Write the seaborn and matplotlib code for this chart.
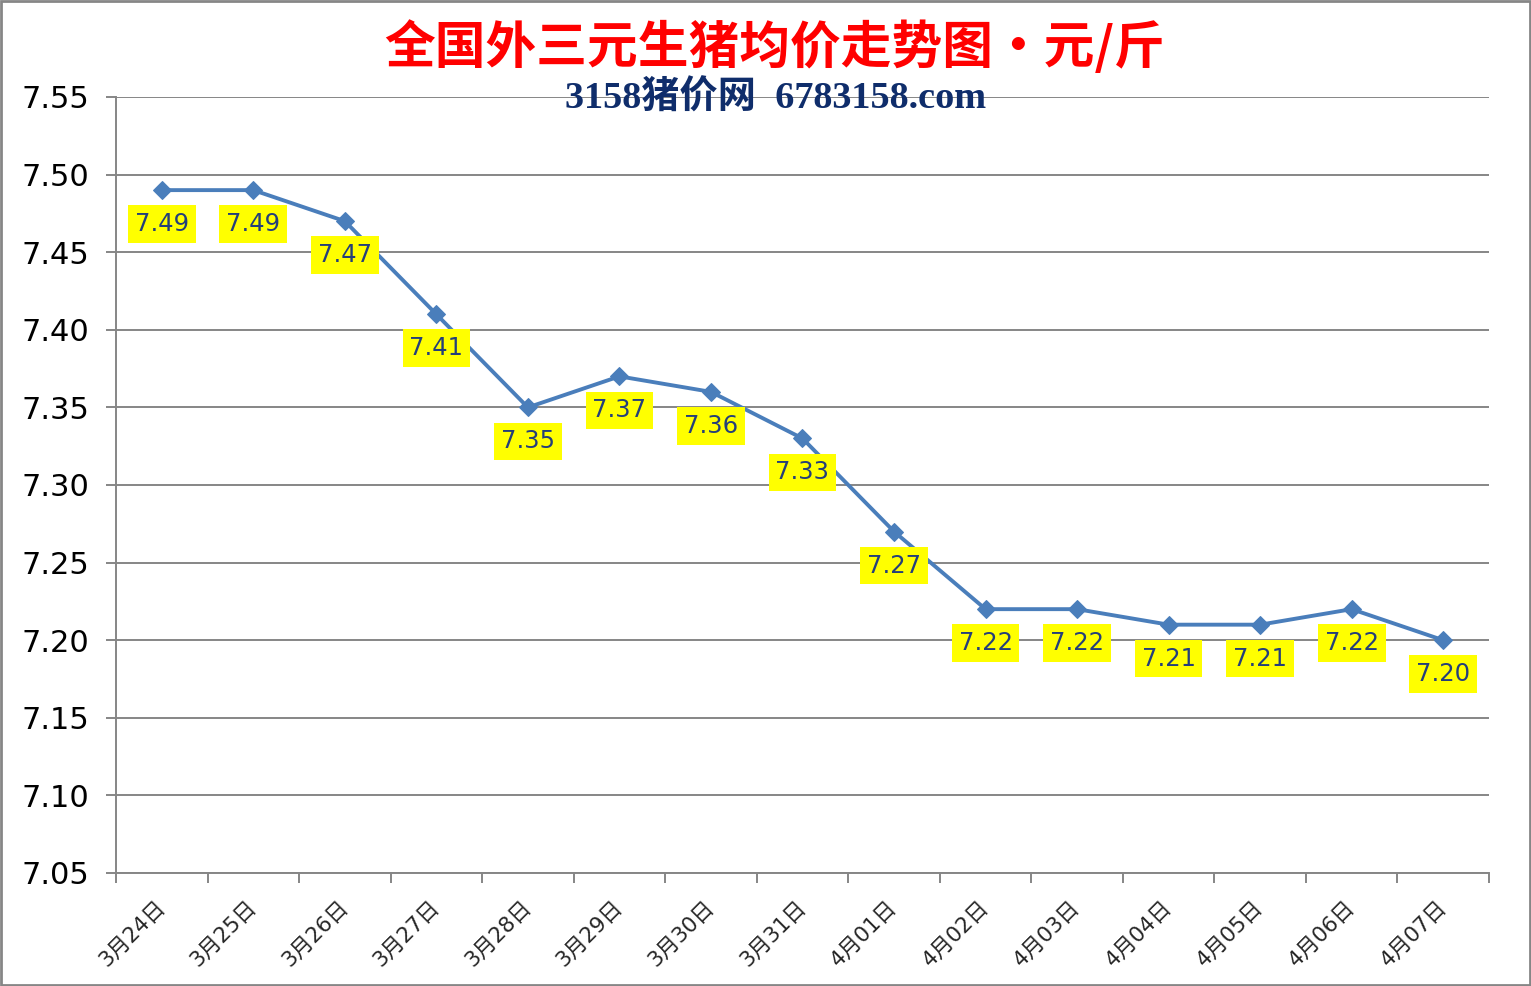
import matplotlib
matplotlib.use("Agg")
import matplotlib.pyplot as plt
import seaborn as sns
import pandas as pd
import numpy as np
from matplotlib.ticker import FixedLocator
from matplotlib.patches import Rectangle

dates = ["3月24日", "3月25日", "3月26日", "3月27日", "3月28日", "3月29日", "3月30日",
         "3月31日", "4月01日", "4月02日", "4月03日", "4月04日", "4月05日", "4月06日", "4月07日"]
prices = [7.49, 7.49, 7.47, 7.41, 7.35, 7.37, 7.36, 7.33, 7.27, 7.22, 7.22, 7.21, 7.21, 7.22, 7.20]
y_ticks = [7.05, 7.10, 7.15, 7.20, 7.25, 7.30, 7.35, 7.40, 7.45, 7.50, 7.55]
title = "全国外三元生猪均价走势图・元/斤"
subtitle = "3158猪价网  6783158.com"

sns.set_theme(style="white")
plt.rcParams['font.family'] = ['DejaVu Sans', 'Noto Sans CJK SC']

df = pd.DataFrame({"date": dates, "price": prices})
df["idx"] = np.arange(len(dates))

fig = plt.figure(figsize=(15.31, 9.86), dpi=100)
ax = fig.add_axes([116/1531, 1-873/986, (1489-116)/1531, (873-97)/986])

grid_c = "#868686"
sns.lineplot(data=df, x="idx", y="price", ax=ax, color="#4A7EBB", linewidth=2.8,
             marker="D", markersize=9, markeredgecolor="#4A7EBB", zorder=3)

ax.set_xlim(-0.5, len(dates) - 0.5)
ax.set_ylim(y_ticks[0], y_ticks[-1])
ax.set_yticks(y_ticks)
ax.set_yticklabels([f"{v:.2f}" for v in y_ticks], fontsize=22, color="black")
ax.yaxis.grid(True, color=grid_c, linewidth=1.4)
ax.set_axisbelow(True)

ax.set_xticks(np.arange(len(dates)))
ax.set_xticklabels(dates, rotation=45, ha="right", va="center", rotation_mode="anchor",
                   fontsize=15.5, family=['DejaVu Sans', 'Noto Sans CJK SC'])
ax.xaxis.set_minor_locator(FixedLocator(np.arange(-0.5, len(dates), 1.0)))
ax.tick_params(axis="x", which="major", length=0, pad=22)
ax.tick_params(axis="x", which="minor", length=7, width=1.4, color=grid_c, direction="out", bottom=True)
ax.tick_params(axis="y", which="major", length=7, width=1.4, color=grid_c, direction="out", left=True, pad=12)
ax.set_xlabel("")
ax.set_ylabel("")

for s in ["top", "right"]:
    ax.spines[s].set_visible(False)
for s in ["left", "bottom"]:
    ax.spines[s].set_color(grid_c)
    ax.spines[s].set_linewidth(1.4)

for i, v in enumerate(prices):
    ax.annotate(f"{v:.2f}", xy=(i, v), xytext=(0, -34), textcoords="offset pixels",
                ha="center", va="center", fontsize=17.5, color="#243F7A",
                bbox=dict(boxstyle="square,pad=0.28", facecolor="#FFFF00", edgecolor="none"),
                zorder=4)

fig.text(775/1531, 1-47/986, title, ha="center", va="center", fontsize=36.5,
         color="#FF0000", fontweight="bold", family=['Noto Sans CJK SC'])
fig.text(776/1531, 1-98/986, subtitle, ha="center", va="center", fontsize=27.5,
         color="#0F2D6B", fontweight="bold", family=['Liberation Serif', 'Noto Sans CJK SC'])

fig.patches.append(Rectangle((0.0008, 0.0012), 0.9984, 0.9976, transform=fig.transFigure,
                             fill=False, edgecolor=grid_c, linewidth=2))

fig.savefig("out.png", dpi=100)
